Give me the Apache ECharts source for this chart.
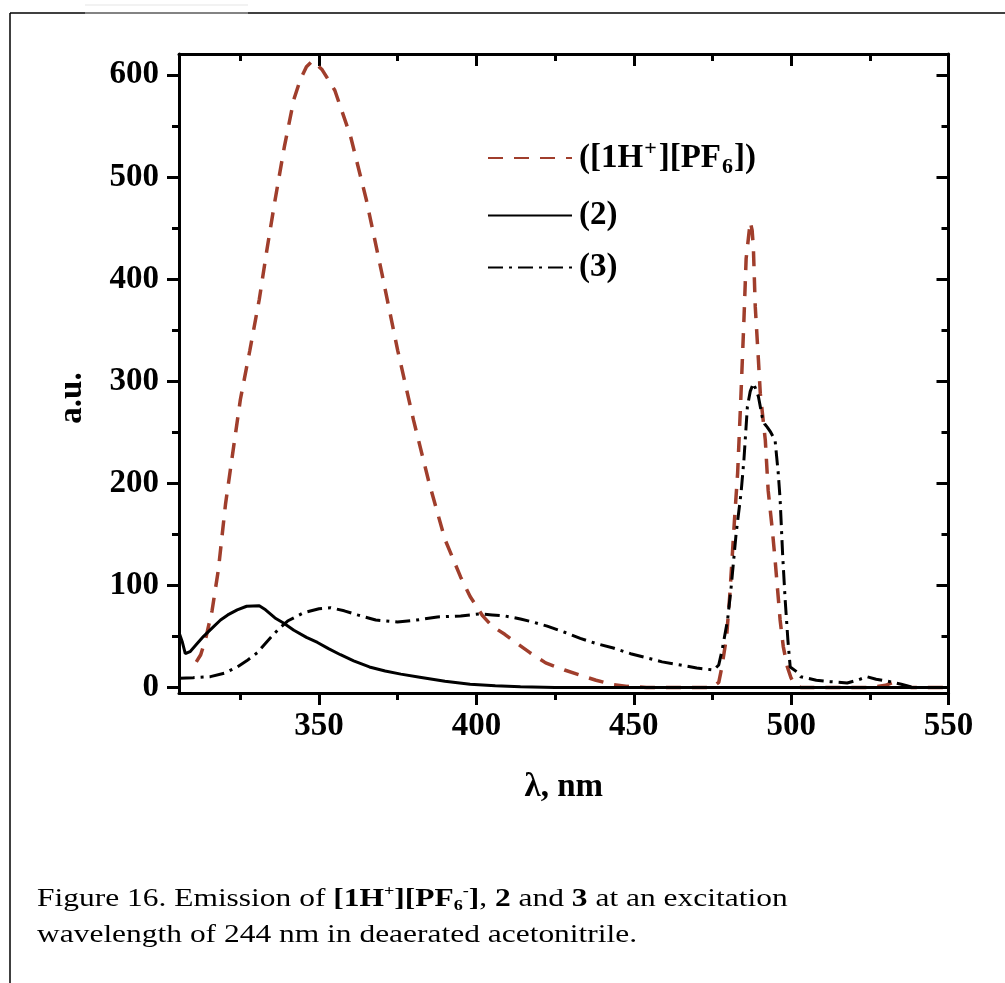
<!DOCTYPE html>
<html>
<head>
<meta charset="utf-8">
<script src="https://cdn.jsdelivr.net/npm/echarts@6/dist/echarts.min.js"></script>
<style>
html,body{margin:0;padding:0;background:#fff;}
#chart{width:1005px;height:983px;}
</style>
</head>
<body>
<div id="chart"></div>
<script>
// ---- data ----
const seriesNames = ['([1H+][PF6])', '(2)', '(3)'];

const x1 = [311, 312.4, 314, 316, 318, 320.3, 322.5, 325, 328, 331, 333.5, 336, 339, 342, 344, 346, 348, 351, 355, 360, 365, 370, 375, 380, 385, 390, 395, 398, 402, 405, 409, 412, 417, 422, 428, 433, 438, 443, 448, 454, 465, 475, 477, 478, 479.5, 480.5, 482, 483, 484, 485, 485.7, 487, 487.6, 488, 488.6, 489.6, 490.2, 491, 491.8, 492.7, 494, 494.9, 496.5, 497.5, 498.8, 500, 501.3, 503, 515, 525, 530, 532.5, 535, 538, 550];
const y1 = [25, 32, 48, 75, 115, 180, 228, 282, 330, 380, 430, 477, 530, 576, 595, 608, 614, 605, 585, 540, 478, 405, 330, 262, 200, 145, 108, 89, 70, 60, 52, 45, 34, 24, 17, 12, 7, 3, 1, 0, 0, 0, 5, 20, 50, 90, 164, 210, 282, 360, 420, 456, 448, 431, 373, 321, 288, 265, 242, 193, 155, 125, 66, 40, 20, 9, 2, 0, 0, 0, 2, 5, 2, 0, 0];

const x2 = [305.7, 306.5, 307.5, 309, 311, 313.3, 316, 318.7, 321, 324, 327, 331, 333, 336, 338.7, 342, 346, 349.5, 353, 356.8, 361, 366, 371, 376, 382, 390, 398, 406, 414, 425, 450, 500, 550];
const y2 = [52, 45, 33, 35, 42, 50, 58, 66, 71, 76, 79.5, 80, 76, 68, 63, 56, 49, 44, 38, 32, 26, 20, 16, 13, 10, 6, 3, 1.5, 0.7, 0, 0, 0, 0];

const x3 = [305.7, 310, 315.5, 320, 324, 327, 330.4, 333.5, 336.8, 340, 345, 350, 353.7, 358, 362.2, 368, 374.9, 381, 387.6, 395, 401, 405, 409, 414, 418, 422.5, 428, 433, 438, 443.5, 449, 454, 459, 464.8, 470, 475.4, 477, 478.1, 479.8, 481, 482.5, 484.1, 485, 486.1, 487, 488, 488.8, 489.6, 490.8, 491.6, 492.4, 493.5, 494.9, 495.9, 496.5, 497.3, 498.1, 499, 499.7, 501.9, 503, 508, 512.4, 517.8, 521, 524.1, 527, 531.4, 535, 538.8, 550];
const y3 = [9, 9.5, 10.5, 14, 20, 26, 34, 45, 56, 65, 73, 77, 78, 75, 71, 66, 64, 66, 69, 70, 72, 71, 70, 67, 64, 60, 54, 48, 43, 38.6, 33, 29, 25, 22, 19, 17, 22, 37, 66, 100, 150, 191, 223, 275, 290, 298, 292, 285, 265, 258, 255, 250, 242, 210, 184, 130, 86, 45, 20, 15, 10.5, 7, 5.6, 4.3, 7, 10.5, 8, 5.6, 3, 0, 0];

const xMajorTicks = [350, 400, 450, 500, 550];
const xMinorTicks = [325, 375, 425, 475, 525];
const yMajorTicks = [0, 100, 200, 300, 400, 500, 600];
const yMinorTicks = [50, 150, 250, 350, 450, 550];

const xRange = [305.5, 550];
const yRange = [-5.5, 620.5];

// ---- chart ----
const SERIF = "'Liberation Serif', 'Times New Roman', serif";
const zip = (xs, ys) => xs.map((x, i) => [x, ys[i]]);

function mkX(pos, ticks, len, inside, showLabel, showLine, extra) {
  return Object.assign({
    type: 'value', position: pos, min: xRange[0], max: xRange[1],
    axisLine: { show: showLine, onZero: false, lineStyle: { color: '#000', width: 3 } },
    axisTick: { show: true, inside: inside, length: len, customValues: ticks, lineStyle: { color: '#000', width: 3 } },
    axisLabel: { show: showLabel, customValues: ticks, margin: 17, color: '#000', fontFamily: SERIF, fontWeight: 'bold', fontSize: 33 },
    splitLine: { show: false }
  }, extra || {});
}
function mkY(pos, ticks, len, inside, showLabel, showLine) {
  return {
    type: 'value', position: pos, min: yRange[0], max: yRange[1],
    axisLine: { show: showLine, onZero: false, lineStyle: { color: '#000', width: 3 } },
    axisTick: { show: true, inside: inside, length: len, customValues: ticks, lineStyle: { color: '#000', width: 3 } },
    axisLabel: { show: showLabel, customValues: ticks, margin: 20, color: '#000', fontFamily: SERIF, fontWeight: 'bold', fontSize: 33 },
    splitLine: { show: false }
  };
}

const rich = {
  b: { fontFamily: SERIF, fontWeight: 'bold', fontSize: 33, color: '#000', lineHeight: 40 },
  sup: { fontFamily: SERIF, fontWeight: 'bold', fontSize: 22, color: '#000', verticalAlign: 'top', lineHeight: 40, padding: [0, 2, 0, 1] },
  sub: { fontFamily: SERIF, fontWeight: 'bold', fontSize: 22, color: '#000', verticalAlign: 'bottom', lineHeight: 40, padding: [0, 1, 0, 1] }
};
function legendLabel(name) {
  if (name === seriesNames[0]) return '{b|([1H}{sup|+}{b|][PF}{sub|6}{b|])}';
  return '{b|' + name + '}';
}
function mkLegend(name, top) {
  return {
    data: [name], left: 487, top: top, orient: 'vertical', selectedMode: false,
    itemWidth: 84, itemHeight: 14, itemGap: 0, padding: 0,
    itemStyle: { opacity: 0 },
    formatter: legendLabel,
    textStyle: { rich: rich, padding: [0, 0, 0, 2] }
  };
}

const capRich = {
  n: { fontFamily: SERIF, fontSize: 26, color: '#000' },
  bb: { fontFamily: SERIF, fontSize: 26, color: '#000', fontWeight: 'bold' },
  sup: { fontFamily: SERIF, fontSize: 15, color: '#000', fontWeight: 'bold', verticalAlign: 'top', lineHeight: 30 },
  sub: { fontFamily: SERIF, fontSize: 15, color: '#000', fontWeight: 'bold', verticalAlign: 'bottom', lineHeight: 30 }
};

const chart = echarts.init(document.getElementById('chart'), null, { renderer: 'canvas' });
chart.setOption({
  backgroundColor: '#fff',
  animation: false,
  grid: { left: 179, right: 56.5, top: 54, bottom: 290, containLabel: false },
  xAxis: [
    mkX('bottom', xMajorTicks, 12, false, true, true, {
      name: 'λ, nm', nameLocation: 'middle', nameGap: 78,
      nameTextStyle: { color: '#000', fontFamily: SERIF, fontWeight: 'bold', fontSize: 33 }
    }),
    mkX('bottom', xMinorTicks, 7, false, false, false),
    mkX('top', xMajorTicks, 12, true, false, true),
    mkX('top', xMinorTicks, 7, true, false, false)
  ],
  yAxis: [
    mkY('left', yMajorTicks, 12, false, true, true),
    mkY('left', yMinorTicks, 7, false, false, false),
    mkY('right', yMajorTicks, 12, true, false, true),
    mkY('right', yMinorTicks, 7, true, false, false)
  ],
  legend: [
    mkLegend(seriesNames[0], 138),
    mkLegend(seriesNames[1], 199),
    mkLegend(seriesNames[2], 251)
  ],
  series: [
    { name: seriesNames[0], type: 'line', xAxisIndex: 0, yAxisIndex: 0, data: zip(x1, y1), symbol: 'none', smooth: false,
      lineStyle: { color: '#a03e2c', width: 3.5, type: [15, 11] }, itemStyle: { color: '#a03e2c' }, z: 2 },
    { name: seriesNames[1], type: 'line', xAxisIndex: 0, yAxisIndex: 0, data: zip(x2, y2), symbol: 'none', smooth: false,
      lineStyle: { color: '#000', width: 3 }, itemStyle: { color: '#000' }, z: 3 },
    { name: seriesNames[2], type: 'line', xAxisIndex: 0, yAxisIndex: 0, data: zip(x3, y3), symbol: 'none', smooth: false,
      lineStyle: { color: '#000', width: 3, type: [15, 6, 3, 6] }, itemStyle: { color: '#000' }, z: 4 }
  ],
  graphic: [
    { type: 'line', shape: { x1: 10, y1: 13, x2: 1005, y2: 13 }, style: { stroke: '#000', lineWidth: 1.5 }, z: 0 },
    { type: 'line', shape: { x1: 85, y1: 13, x2: 248, y2: 13 }, style: { stroke: '#9a9a9a', lineWidth: 1.5 }, z: 1 },
    { type: 'line', shape: { x1: 85, y1: 5, x2: 248, y2: 5 }, style: { stroke: '#eeeeee', lineWidth: 1.5 }, z: 1 },
    { type: 'line', shape: { x1: 10, y1: 13, x2: 10, y2: 983 }, style: { stroke: '#000', lineWidth: 1.5 }, z: 0 },
    { type: 'text', x: 72, y: 398, rotation: Math.PI / 2,
      style: { text: 'a.u.', fill: '#000', font: "bold 33px 'Liberation Serif', 'Times New Roman', serif", align: 'center', verticalAlign: 'middle' } },
    { type: 'text', x: 37, y: 884, scaleX: 1.21, originX: 0, originY: 0,
      style: { text: '{n|Figure 16. Emission of }{bb|[1H}{sup|+}{bb|][PF}{sub|6}{sup|-}{bb|]}{n|, }{bb|2}{n| and }{bb|3}{n| at an excitation}', rich: capRich } },
    { type: 'text', x: 37, y: 922, scaleX: 1.21, originX: 0, originY: 0,
      style: { text: 'wavelength of 244 nm in deaerated acetonitrile.', fill: '#000', font: "26px 'Liberation Serif', 'Times New Roman', serif" } }
  ]
});
</script>
</body>
</html>
